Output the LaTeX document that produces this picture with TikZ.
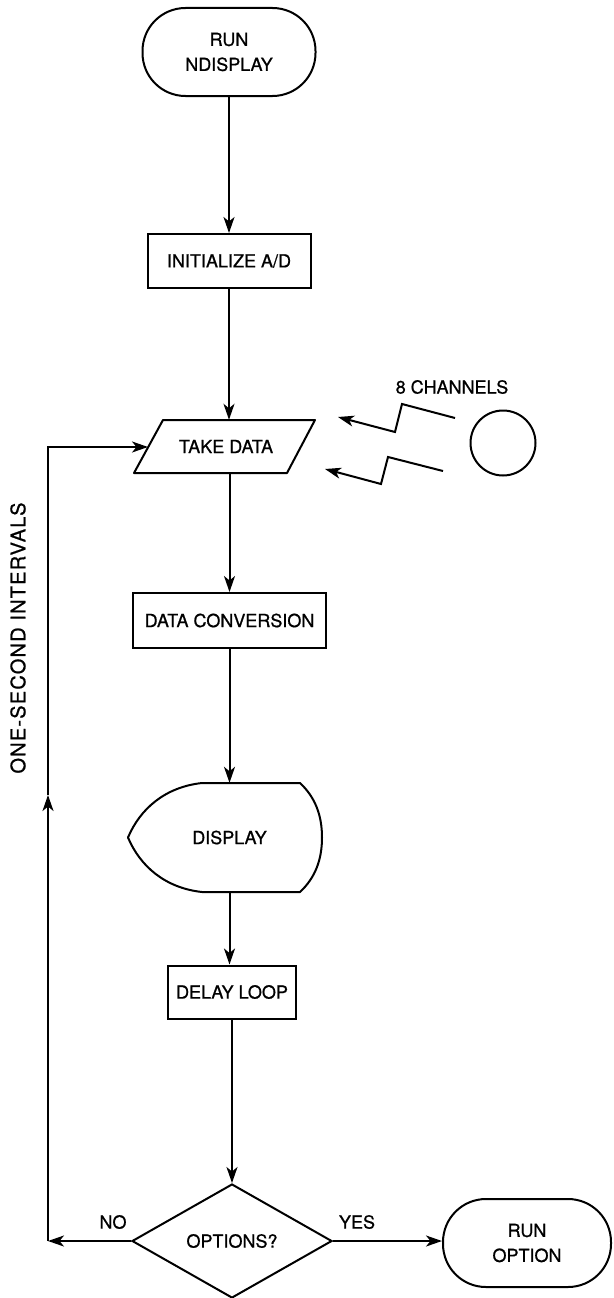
\documentclass[tikz,border=0pt]{standalone}
\usepackage{fontspec}
\setmainfont{TeX Gyre Heros}[FakeBold=0.8]
\usetikzlibrary{arrows.meta,shapes.geometric}
\begin{document}
\begin{tikzpicture}[x=1pt,y=-1pt,
  every node/.style={font=\fontsize{18}{25}\selectfont},
  ln/.style={line width=2pt},
  arr/.style={ln,-{Stealth[length=16pt,width=11pt,inset=4.5pt]}},
  term/.style={draw,ln,rounded corners=43pt,align=center,minimum height=88pt,inner sep=0pt},
  proc/.style={draw,ln,minimum height=54pt,inner sep=0pt},
  plain/.style={inner sep=0pt},
]
\path[use as bounding box,fill=white] (0,0) rectangle (613,1298);

% nodes
\node[term,minimum width=173pt] (start) at (229,52) {RUN\\NDISPLAY};
\node[proc,minimum width=163pt] (init) at (229,261) {INITIALIZE A/D};
\node[plain,minimum width=120pt,minimum height=53pt] (take) at (226,446.5) {TAKE DATA};
\draw[ln,line join=round] (134,473) -- (163,420) -- (315,420) -- (287,473) -- cycle;
\node[proc,minimum width=193pt,minimum height=55pt] (conv) at (229.5,620.5) {DATA CONVERSION};
\node[plain,minimum width=150pt,minimum height=109pt] (disp) at (229.5,837.5) {DISPLAY};
\draw[ln,line join=round] (202,783) -- (300,783)
  .. controls (315,797) and (322,815) .. (322,837.5)
  .. controls (322,860) and (315,878) .. (300,892)
  -- (202,892)
  .. controls (165,888) and (140,866) .. (128,837.5)
  .. controls (140,809) and (165,787) .. (202,783);
\node[proc,minimum width=128pt,minimum height=53pt] (delay) at (232,992) {DELAY LOOP};
\node[draw,ln,diamond,aspect=1.7,minimum width=200pt,minimum height=114pt,inner sep=0pt] (opt) at (232,1241) {OPTIONS?};
\node[term,minimum width=168pt] (runopt) at (527,1243) {RUN\\OPTION};

\node[draw,ln,circle,minimum size=65pt,inner sep=0pt] (src) at (503,443) {};
\node[plain] (chan) at (452,387) {8 CHANNELS};
\node[plain,rotate=90,font=\fontsize{20}{25}\selectfont\addfontfeature{LetterSpace=6}] (interval) at (18,638) {ONE-SECOND INTERVALS};
\node[plain] (no) at (113,1222) {NO};
\node[plain] (yes) at (357,1222) {YES};

% coordinates
\coordinate (cno) at (48,1241);
\coordinate (cmid) at (48,795);
\coordinate (ctop) at (48,447);
\coordinate (takein) at (148,447);
\coordinate (z1a) at (455,418);
\coordinate (z1b) at (402,404);
\coordinate (z1c) at (395,432);
\coordinate (z1d) at (338,417);
\coordinate (z2a) at (443,471);
\coordinate (z2b) at (388,457);
\coordinate (z2c) at (381,484);
\coordinate (z2d) at (325,469);

% connectors
\draw[arr] (start) -- (init);
\draw[arr] (init) -- (take.north -| init);
\draw[arr] (take.south -| conv) -- (conv);
\draw[arr] (conv) -- (disp.north -| conv);
\draw[arr] (disp.south -| conv) -- (delay.north -| conv);
\draw[arr] (delay) -- (opt);
\draw[arr] (opt.east) -- (opt.east -| runopt.west);
\draw[arr] (opt.west) -- (cno);
\draw[arr] (cno) -- (cmid);
\draw[arr,line join=miter] (cmid) -- (ctop) -- (takein);
\draw[arr,line join=miter] (z1a) -- (z1b) -- (z1c) -- (z1d);
\draw[arr,line join=miter] (z2a) -- (z2b) -- (z2c) -- (z2d);
\end{tikzpicture}
\end{document}
